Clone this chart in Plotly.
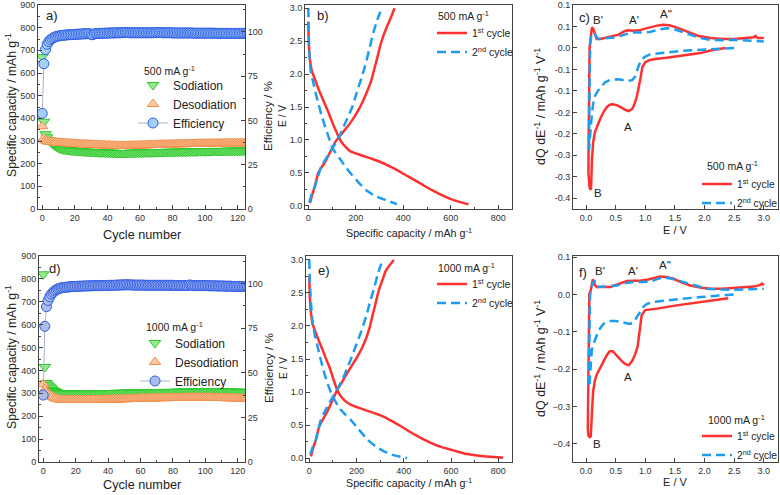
import plotly.graph_objects as go

W, H = 780, 495
FONT = "Liberation Sans, Arial, sans-serif"
AX = "#444444"
RED = "#ff3030"
BLUE = "#1e9cf0"

cycles = list(range(130))

# ---- panel a (500 mA g-1) ----
a_sod = [670, 385, 330, 316, 305, 297, 290, 284, 279, 275,
         270, 267, 265, 263, 262, 261, 260, 259, 258, 258,
         257, 256, 256, 255, 255, 254, 254, 253, 253, 252,
         252, 252, 251, 251, 251, 250, 250, 250, 250, 249,
         249, 249, 248, 248, 248, 248, 247, 247, 247, 247,
         247, 247, 247, 248, 248, 248, 248, 248, 249, 249,
         249, 249, 249, 250, 250, 250, 250, 250, 250, 251,
         251, 251, 251, 251, 251, 252, 252, 252, 252, 252,
         252, 252, 253, 253, 253, 253, 253, 253, 253, 254,
         254, 254, 254, 254, 254, 254, 255, 255, 255, 255,
         255, 255, 255, 255, 256, 256, 256, 256, 256, 256,
         256, 256, 256, 257, 257, 257, 257, 257, 257, 257,
         257, 257, 257, 258, 258, 258, 258, 258, 258, 258]
a_desod = [365, 312, 303, 299, 297, 296, 295, 294, 294, 293,
           292, 292, 291, 291, 290, 290, 289, 289, 288, 288,
           287, 287, 286, 286, 286, 285, 285, 285, 284, 284,
           283, 283, 283, 282, 282, 282, 281, 281, 281, 280,
           280, 280, 280, 279, 279, 279, 279, 278, 278, 278,
           278, 278, 278, 279, 279, 279, 279, 280, 280, 280,
           280, 281, 281, 281, 281, 282, 282, 282, 282, 283,
           283, 283, 283, 284, 284, 284, 284, 284, 285, 285,
           285, 285, 285, 286, 286, 286, 286, 286, 286, 287,
           287, 287, 287, 287, 287, 288, 288, 288, 288, 288,
           288, 288, 288, 289, 289, 289, 289, 289, 289, 289,
           289, 289, 290, 290, 290, 290, 290, 290, 290, 290,
           290, 290, 290, 290, 290, 290, 291, 291, 291, 291]
a_eff = [54.0, 82.0, 90.0, 93.0, 94.5, 95.5, 96.2, 96.8, 97.2, 97.5,
         97.7, 97.9, 98.0, 98.1, 98.2, 98.3, 98.4, 98.4, 98.5, 98.5,
         98.6, 98.7, 98.7, 98.8, 98.8, 98.9, 98.9, 99.0, 99.0, 99.0,
         98.6, 98.4, 98.9, 99.1, 99.1, 99.2, 99.2, 99.2, 99.3, 99.3,
         99.3, 99.4, 99.4, 99.4, 99.4, 99.5, 99.5, 99.5, 99.5, 99.6,
         99.6, 99.7, 99.6, 99.6, 99.5, 99.5, 99.5, 99.5, 99.5, 99.5,
         99.5, 99.5, 99.5, 99.5, 99.5, 99.5, 99.5, 99.5, 99.5, 99.6,
         99.6, 99.7, 99.6, 99.6, 99.5, 99.5, 99.5, 99.5, 99.5, 99.5,
         99.4, 99.4, 99.4, 99.4, 99.4, 99.4, 99.4, 99.4, 99.4, 99.4,
         99.4, 99.4, 99.4, 99.3, 99.3, 99.3, 99.3, 99.3, 99.3, 99.3,
         99.3, 99.3, 99.3, 99.3, 99.3, 99.3, 99.3, 99.2, 99.2, 99.2,
         99.2, 99.2, 99.2, 99.2, 99.2, 99.2, 99.2, 99.2, 99.2, 99.2,
         99.2, 99.2, 99.2, 99.2, 99.2, 99.2, 99.2, 99.2, 99.2, 99.2]

# ---- panel d (1000 mA g-1) ----
d_sod = [820, 415, 345, 338, 330, 322, 315, 310, 306, 303,
         301, 300, 300, 299, 299, 299, 299, 299, 299, 299,
         299, 299, 299, 299, 299, 300, 300, 300, 300, 300,
         300, 300, 300, 300, 300, 300, 300, 301, 301, 301,
         301, 301, 301, 301, 302, 302, 302, 302, 302, 302,
         303, 303, 303, 303, 303, 303, 303, 304, 304, 304,
         304, 304, 304, 304, 305, 305, 305, 305, 305, 305,
         305, 305, 305, 306, 306, 306, 306, 306, 306, 306,
         306, 306, 307, 307, 307, 307, 307, 307, 307, 307,
         308, 308, 308, 308, 308, 308, 308, 308, 309, 309,
         309, 309, 309, 309, 309, 309, 309, 309, 309, 309,
         308, 308, 308, 308, 308, 308, 307, 307, 307, 307,
         307, 307, 306, 306, 306, 306, 306, 306, 305, 305]
d_desod = [340, 318, 305, 298, 293, 288, 284, 280, 277, 275,
           273, 272, 271, 271, 271, 271, 271, 271, 271, 271,
           271, 271, 271, 271, 271, 271, 271, 271, 271, 271,
           271, 271, 271, 271, 271, 271, 271, 271, 272, 272,
           272, 272, 272, 273, 273, 273, 273, 274, 274, 274,
           274, 275, 275, 275, 275, 276, 276, 276, 276, 276,
           277, 277, 277, 277, 277, 278, 278, 278, 278, 278,
           278, 279, 279, 279, 279, 279, 279, 279, 280, 280,
           280, 280, 280, 280, 280, 280, 280, 281, 281, 281,
           281, 281, 281, 281, 281, 281, 281, 281, 281, 281,
           281, 281, 281, 281, 281, 280, 280, 280, 280, 280,
           280, 279, 279, 279, 279, 279, 278, 278, 278, 278,
           277, 277, 277, 276, 276, 276, 276, 275, 275, 275]
d_eff = [37.5, 76.0, 87.0, 90.5, 92.5, 94.0, 95.0, 95.8, 96.4, 96.9,
         97.3, 97.5, 97.7, 97.8, 97.9, 98.0, 98.1, 98.2, 98.3, 98.3,
         98.4, 98.4, 98.5, 98.5, 98.5, 98.6, 98.6, 98.6, 98.7, 98.7,
         98.7, 98.7, 98.8, 98.8, 98.8, 98.8, 98.8, 98.9, 98.9, 98.9,
         98.9, 99.0, 99.0, 99.0, 99.0, 99.1, 99.1, 99.1, 99.2, 99.2,
         99.2, 99.3, 99.3, 99.2, 99.2, 99.2, 99.1, 99.1, 99.1, 99.1,
         99.1, 99.1, 99.1, 99.0, 99.0, 99.0, 99.0, 99.0, 99.0, 99.0,
         99.0, 99.0, 99.0, 99.0, 99.0, 99.0, 99.0, 99.0, 99.0, 99.0,
         99.0, 98.9, 98.9, 98.9, 98.9, 98.9, 98.9, 98.9, 98.9, 98.9,
         99.1, 99.1, 98.9, 98.8, 98.8, 98.8, 98.8, 98.8, 98.8, 98.8,
         98.8, 98.8, 98.7, 98.7, 98.7, 98.7, 98.7, 98.6, 98.6, 98.6,
         98.6, 98.6, 98.5, 98.5, 98.5, 98.5, 98.5, 98.4, 98.4, 98.4,
         98.4, 98.4, 98.3, 98.3, 98.3, 98.3, 98.3, 98.3, 98.3, 98.3]

# ---- panel b (500 mA g-1) voltage profiles ----
b1_dis_cap = [0, 1, 3, 7, 15, 28, 42, 56, 75, 91, 105, 120, 134, 150, 176, 220, 270,
              316, 350, 387, 420, 457, 490, 527, 560, 598, 640, 675]
b1_dis_v = [2.8, 2.6, 2.4, 2.22, 2.05, 1.92, 1.78, 1.66, 1.5, 1.36, 1.23, 1.11, 1.0,
            0.92, 0.83, 0.77, 0.71, 0.645, 0.585, 0.515, 0.445, 0.37, 0.30, 0.225,
            0.165, 0.105, 0.055, 0.02]
b1_ch_cap = [7, 15, 28, 42, 55, 70, 90, 112, 135, 162, 185, 204, 225, 246, 265, 281,
             292, 302, 315, 331, 348, 363]
b1_ch_v = [0.04, 0.15, 0.30, 0.50, 0.58, 0.66, 0.80, 0.96, 1.07, 1.19, 1.30, 1.41,
           1.55, 1.72, 1.90, 2.12, 2.27, 2.42, 2.57, 2.72, 2.86, 3.0]
b2_dis_cap = [0, 1, 2, 4, 10, 21, 30, 42, 55, 70, 85, 98, 115, 134, 155, 176, 210,
              246, 280, 316, 345, 373]
b2_dis_v = [3.0, 2.8, 2.6, 2.32, 2.05, 1.87, 1.72, 1.56, 1.38, 1.21, 1.05, 0.91, 0.80,
            0.71, 0.60, 0.50, 0.36, 0.23, 0.15, 0.10, 0.06, 0.025]
b2_ch_cap = [4, 15, 28, 42, 56, 75, 91, 110, 127, 145, 162, 185, 204, 222, 239, 255,
             274, 290, 309]
b2_ch_v = [0.05, 0.18, 0.30, 0.46, 0.61, 0.72, 0.81, 0.92, 1.03, 1.17, 1.31, 1.50,
           1.72, 1.92, 2.12, 2.35, 2.63, 2.82, 3.0]

# ---- panel e (1000 mA g-1) voltage profiles ----
e1_dis_cap = [0, 2, 7, 15, 28, 42, 56, 70, 84, 98, 112, 122, 133, 150, 175, 210, 246,
              280, 316, 350, 386, 420, 456, 490, 526, 560, 596, 630, 667, 720, 780, 821]
e1_dis_v = [2.75, 2.45, 2.19, 2.02, 1.89, 1.76, 1.64, 1.51, 1.39, 1.24, 1.09, 1.0,
            0.94, 0.87, 0.81, 0.76, 0.715, 0.675, 0.625, 0.56, 0.485, 0.41, 0.335,
            0.27, 0.21, 0.165, 0.13, 0.095, 0.06, 0.035, 0.015, 0.005]
e1_ch_cap = [7, 15, 28, 42, 60, 77, 98, 119, 140, 161, 182, 204, 222, 239, 255, 267,
             281, 295, 310, 323, 340, 358]
e1_ch_v = [0.025, 0.14, 0.28, 0.48, 0.60, 0.71, 0.87, 1.04, 1.16, 1.29, 1.41, 1.54,
           1.66, 1.80, 1.97, 2.15, 2.35, 2.55, 2.70, 2.83, 2.92, 3.0]
e2_dis_cap = [0, 1, 4, 8, 14, 24, 35, 49, 63, 80, 98, 115, 133, 155, 175, 210, 246,
              280, 316, 360, 414]
e2_dis_v = [3.0, 2.8, 2.55, 2.3, 2.05, 1.85, 1.69, 1.48, 1.29, 1.10, 0.94, 0.83, 0.73,
            0.65, 0.58, 0.43, 0.28, 0.18, 0.10, 0.04, 0.0]
e2_ch_cap = [4, 15, 28, 38, 49, 65, 84, 105, 126, 150, 175, 196, 218, 240, 260, 275,
             288, 298, 309]
e2_ch_v = [0.05, 0.17, 0.28, 0.42, 0.58, 0.70, 0.83, 0.96, 1.09, 1.27, 1.49, 1.69,
           1.90, 2.14, 2.40, 2.58, 2.76, 2.88, 2.98]

# ---- panel c (500 mA g-1) dQ/dE ----
c1_E = [2.35, 2.1, 1.93, 1.6, 1.36, 1.2, 1.08, 1.0, 0.95, 0.92, 0.89, 0.86, 0.82, 0.78,
        0.72, 0.66, 0.6, 0.52, 0.45, 0.40, 0.35, 0.30, 0.24, 0.19, 0.15, 0.12, 0.10,
        0.085, 0.07, 0.056, 0.04,
        0.045, 0.055, 0.06, 0.075, 0.09, 0.10, 0.12, 0.15, 0.18, 0.24, 0.35, 0.45,
        0.55, 0.65, 0.70, 0.80, 0.90, 1.0, 1.1, 1.2, 1.3, 1.4, 1.5, 1.6, 1.76, 1.9,
        2.1, 2.3, 2.5, 2.7, 2.83, 2.86, 2.9, 3.0]
c1_dq = [0.0, -0.006, -0.012, -0.019, -0.023, -0.025, -0.028, -0.033, -0.045, -0.07,
         -0.095, -0.112, -0.13, -0.142, -0.147, -0.144, -0.139, -0.133, -0.131, -0.132,
         -0.138, -0.148, -0.165, -0.18, -0.196, -0.22, -0.26, -0.327, -0.33, -0.32,
         -0.29,
         -0.2, -0.05, 0.0, 0.02, 0.04, 0.048, 0.045, 0.03, 0.021, 0.021, 0.024, 0.027,
         0.031, 0.039, 0.041, 0.040, 0.041, 0.045, 0.049, 0.052, 0.054, 0.053, 0.049,
         0.044, 0.035, 0.028, 0.023, 0.021, 0.021, 0.023, 0.025, 0.028, 0.023, 0.023]
c2_E = [2.5, 2.2, 1.93, 1.7, 1.48, 1.25, 1.08, 1.0, 0.93, 0.88, 0.83, 0.78, 0.70, 0.60,
        0.52, 0.45, 0.38, 0.32, 0.26, 0.20, 0.15, 0.12, 0.096, 0.075, 0.06, 0.05,
        0.055, 0.06, 0.07, 0.085, 0.11, 0.14, 0.17, 0.21, 0.30, 0.40, 0.52, 0.65, 0.80,
        0.95, 1.08, 1.2, 1.36, 1.5, 1.6, 1.75, 1.93, 2.1, 2.3, 2.5, 2.7, 2.85, 3.0]
c2_dq = [0.0, -0.002, -0.004, -0.006, -0.009, -0.012, -0.015, -0.02, -0.028, -0.045,
         -0.066, -0.075, -0.077, -0.074, -0.073, -0.074, -0.076, -0.08, -0.09, -0.10,
         -0.112, -0.13, -0.158, -0.19, -0.23, -0.238,
         -0.15, -0.05, 0.01, 0.025, 0.033, 0.035, 0.027, 0.021, 0.022, 0.023, 0.025,
         0.031, 0.036, 0.036, 0.037, 0.042, 0.046, 0.043, 0.038, 0.031, 0.023, 0.019,
         0.018, 0.019, 0.018, 0.016, 0.015]

# ---- panel f (1000 mA g-1) dQ/dE ----
f1_E = [2.4, 2.1, 1.8, 1.5, 1.2, 1.0, 0.94, 0.92, 0.90, 0.87, 0.83, 0.78, 0.72, 0.66,
        0.60, 0.52, 0.45, 0.40, 0.35, 0.30, 0.24, 0.18, 0.15, 0.12, 0.105, 0.096, 0.08,
        0.06, 0.04, 0.03,
        0.035, 0.045, 0.056, 0.079, 0.10, 0.115, 0.13, 0.15, 0.18, 0.30, 0.41, 0.55,
        0.69, 0.80, 0.91, 1.05, 1.15, 1.25, 1.35, 1.48, 1.6, 1.76, 1.95, 2.1, 2.3, 2.49,
        2.7, 2.83, 2.93, 2.97, 3.0]
f1_dq = [-0.01, -0.016, -0.022, -0.03, -0.038, -0.042, -0.055, -0.08, -0.11, -0.14,
         -0.16, -0.178, -0.19, -0.186, -0.178, -0.163, -0.152, -0.152, -0.163, -0.178,
         -0.195, -0.215, -0.23, -0.26, -0.30, -0.355, -0.38, -0.382, -0.378, -0.36,
         -0.25, -0.08, 0.002, 0.011, 0.03, 0.04, 0.036, 0.025, 0.02, 0.019, 0.02, 0.028,
         0.036, 0.037, 0.037, 0.04, 0.045, 0.048, 0.047, 0.042, 0.033, 0.024, 0.018,
         0.015, 0.015, 0.017, 0.019, 0.021, 0.025, 0.029, 0.024]
f2_E = [2.49, 2.2, 1.93, 1.6, 1.36, 1.15, 1.03, 0.95, 0.90, 0.86, 0.80, 0.74, 0.66, 0.58,
        0.50, 0.41, 0.35, 0.29, 0.22, 0.18, 0.13, 0.096, 0.08, 0.068, 0.056, 0.045,
        0.05, 0.06, 0.068, 0.09, 0.11, 0.14, 0.16, 0.18, 0.30, 0.52, 0.65, 0.80, 0.95,
        1.08, 1.2, 1.31, 1.45, 1.65, 1.85, 2.04, 2.3, 2.49, 2.75, 3.0]
f2_dq = [0.0, -0.003, -0.007, -0.012, -0.016, -0.02, -0.025, -0.035, -0.05, -0.061,
         -0.075, -0.079, -0.077, -0.074, -0.071, -0.071, -0.074, -0.079, -0.095, -0.11,
         -0.13, -0.15, -0.18, -0.21, -0.248, -0.24,
         -0.15, -0.04, -0.003, 0.02, 0.029, 0.037, 0.03, 0.02, 0.021, 0.024, 0.03,
         0.033, 0.033, 0.034, 0.041, 0.046, 0.042, 0.033, 0.022, 0.015, 0.013, 0.0125,
         0.014, 0.015]

c_yticks = [0.1, 0.05, 0.0, -0.05, -0.1, -0.15, -0.2, -0.25, -0.3, -0.35]
c_yticktext = ["0.1", "0.1", "0.0", "-0.1", "-0.1", "-0.2", "-0.2", "-0.3", "-0.3", "-0.4"]

# peak labels (text, E, dQ)
c_peaks = [("B'", 0.20, 0.064), ("A'", 0.81, 0.064), ("A''", 1.35, 0.078),
           ("A", 0.70, -0.185), ("B", 0.20, -0.338)]
f_peaks = [("B'", 0.23, 0.064), ("A'", 0.80, 0.064), ("A''", 1.34, 0.079),
           ("A", 0.70, -0.222), ("B", 0.18, -0.402)]

# ---------------- layout helpers ----------------
def px_x(p):
    return p / W


def px_y(p):
    return 1 - p / H


fig = go.Figure()
TICKFONT = dict(size=9, color="#333", family=FONT)


def axis_common(**kw):
    d = dict(showline=True, linecolor=AX, linewidth=1, ticks="inside", ticklen=4,
             tickcolor=AX, tickfont=TICKFONT, showgrid=False, zeroline=False)
    d.update(kw)
    return d


panels = {
    "a": (38, 245, 5, 209),
    "b": (305, 512, 5, 209),
    "c": (573, 778, 5, 209),
    "d": (39, 245, 256, 462),
    "e": (306, 512, 256, 462),
    "f": (573, 778, 256, 462),
}


def dom(p):
    l, r, t, b = panels[p]
    return [px_x(l), px_x(r)], [px_y(b), px_y(t)]


SOD = dict(symbol="triangle-down", size=10, color="#94ec8c", line=dict(color="#2cc82c", width=1))
DES = dict(symbol="triangle-up", size=10, color="#fcc8a2", line=dict(color="#f2904e", width=1))


def cycling_panel(xa, ya, ya2, sod, des, eff, legend, eff_fill):
    fig.add_trace(go.Scatter(x=cycles, y=sod, mode="markers", marker=SOD, name="Sodiation",
                             xaxis=xa, yaxis=ya, legend=legend))
    fig.add_trace(go.Scatter(x=cycles, y=des, mode="markers", marker=DES, name="Desodiation",
                             xaxis=xa, yaxis=ya, legend=legend))
    fig.add_trace(go.Scatter(x=cycles, y=eff, mode="lines+markers", name="Efficiency",
                             line=dict(color="#a8b4c8", width=1),
                             marker=dict(symbol="circle", size=10, color=eff_fill,
                                         line=dict(color="#2f5ce6", width=1)),
                             xaxis=xa, yaxis=ya2, legend=legend))


def profile_panel(xa, ya, d1c, d1v, c1c, c1v, d2c, d2v, c2c, c2v, legend):
    fig.add_trace(go.Scatter(x=d1c + [None] + c1c, y=d1v + [None] + c1v, mode="lines",
                             name="1<sup>st</sup> cycle",
                             line=dict(color=RED, width=2.5, shape="spline", smoothing=0.5),
                             xaxis=xa, yaxis=ya, legend=legend, connectgaps=False))
    fig.add_trace(go.Scatter(x=d2c + [None] + c2c, y=d2v + [None] + c2v, mode="lines",
                             name="2<sup>nd</sup> cycle",
                             line=dict(color=BLUE, width=2.5, dash="9px,5px", shape="spline", smoothing=0.5),
                             xaxis=xa, yaxis=ya, legend=legend, connectgaps=False))


def dqde_panel(xa, ya, e1, q1, e2, q2, legend):
    fig.add_trace(go.Scatter(x=e1, y=q1, mode="lines", name="1<sup>st</sup> cycle",
                             line=dict(color=RED, width=2.5),
                             xaxis=xa, yaxis=ya, legend=legend))
    fig.add_trace(go.Scatter(x=e2, y=q2, mode="lines", name="2<sup>nd</sup> cycle",
                             line=dict(color=BLUE, width=2.5, dash="9px,5px"),
                             xaxis=xa, yaxis=ya, legend=legend))


cycling_panel("x", "y", "y2", a_sod, a_desod, a_eff, "legend", "#a4d0f6")
profile_panel("x2", "y3", b1_dis_cap, b1_dis_v, b1_ch_cap, b1_ch_v,
              b2_dis_cap, b2_dis_v, b2_ch_cap, b2_ch_v, "legend2")
dqde_panel("x3", "y4", c1_E, c1_dq, c2_E, c2_dq, "legend3")
cycling_panel("x4", "y5", "y6", d_sod, d_desod, d_eff, "legend4", "#aabde6")
profile_panel("x5", "y7", e1_dis_cap, e1_dis_v, e1_ch_cap, e1_ch_v,
              e2_dis_cap, e2_dis_v, e2_ch_cap, e2_ch_v, "legend5")
dqde_panel("x6", "y8", f1_E, f1_dq, f2_E, f2_dq, "legend6")

layout = dict(width=W, height=H, margin=dict(l=0, r=0, t=0, b=0, autoexpand=False),
              paper_bgcolor="white", plot_bgcolor="white",
              font=dict(family=FONT, size=12, color="#222"))

MINX = lambda dt: dict(ticks="inside", ticklen=2, dtick=dt, tickcolor=AX)

xd, yd = dom("a")
layout["xaxis"] = axis_common(domain=xd, anchor="y", range=[-2.6, 124.5], dtick=20, mirror=True, minor=MINX(10))
layout["yaxis"] = axis_common(domain=yd, anchor="x", range=[0, 900], dtick=100, minor=MINX(50))
layout["yaxis2"] = axis_common(overlaying="y", anchor="x", side="right", range=[0, 115.2],
                               tickvals=[0, 25, 50, 75, 100], minor=MINX(12.5))
xd, yd = dom("b")
layout["xaxis2"] = axis_common(domain=xd, anchor="y3", range=[-14, 858], dtick=200, mirror=True, minor=MINX(100))
layout["yaxis3"] = axis_common(domain=yd, anchor="x2", range=[-0.05, 3.05], dtick=0.5,
                               tickformat=".1f", mirror=True, minor=MINX(0.25))
xd, yd = dom("c")
layout["xaxis3"] = axis_common(domain=xd, anchor="y4", range=[-0.22, 3.24], dtick=0.5,
                               tickformat=".1f", mirror=True)
layout["yaxis4"] = axis_common(domain=yd, anchor="x3", range=[-0.375, 0.1],
                               tickvals=c_yticks, ticktext=c_yticktext, mirror=True)
xd, yd = dom("d")
layout["xaxis4"] = axis_common(domain=xd, anchor="y5", range=[-2.6, 124.5], dtick=20, mirror=True, minor=MINX(10))
layout["yaxis5"] = axis_common(domain=yd, anchor="x4", range=[0, 900], dtick=100, minor=MINX(50))
layout["yaxis6"] = axis_common(overlaying="y5", anchor="x4", side="right", range=[0, 115.4],
                               tickvals=[0, 25, 50, 75, 100], minor=MINX(12.5))
xd, yd = dom("e")
layout["xaxis5"] = axis_common(domain=xd, anchor="y7", range=[-14, 858], dtick=200, mirror=True, minor=MINX(100))
layout["yaxis7"] = axis_common(domain=yd, anchor="x5", range=[-0.06, 3.06], dtick=0.5,
                               tickformat=".1f", mirror=True, minor=MINX(0.25))
xd, yd = dom("f")
layout["xaxis6"] = axis_common(domain=xd, anchor="y8", range=[-0.22, 3.24], dtick=0.5,
                               tickformat=".1f", mirror=True)
layout["yaxis8"] = axis_common(domain=yd, anchor="x6", range=[-0.449, 0.103], dtick=0.1,
                               tickformat=".1f", mirror=True)


def leg(xp, yp, size):
    return dict(x=px_x(xp), y=px_y(yp), xanchor="left", yanchor="top",
                bgcolor="rgba(0,0,0,0)", borderwidth=0,
                font=dict(size=size, family=FONT, color="#222"),
                itemwidth=30, tracegroupgap=0)


layout["legend"] = leg(133, 70.5, 12)
layout["legend2"] = leg(432, 18.5, 10.5)
layout["legend3"] = leg(697, 169.5, 10.3)
layout["legend4"] = leg(135, 328.5, 12)
layout["legend5"] = leg(432, 269.5, 10.5)
layout["legend6"] = leg(697, 421.5, 10.3)

ann = []


def text(x, y, s, size=13, angle=0, xanchor="center"):
    ann.append(dict(x=px_x(x), y=px_y(y), xref="paper", yref="paper", text=s,
                    showarrow=False, textangle=angle, xanchor=xanchor, yanchor="middle",
                    font=dict(size=size, family=FONT, color="#222")))


T500 = "500 mA g<sup>-1</sup>"
T1000 = "1000 mA g<sup>-1</sup>"
# legend titles
text(142, 70, T500, size=10.5, xanchor="left")
text(436, 16, T500, size=10.5, xanchor="left")
text(705, 166, T500, size=10.5, xanchor="left")
text(144, 326, T1000, size=10.5, xanchor="left")
text(436, 267, T1000, size=10.5, xanchor="left")
text(706, 419, T1000, size=10.5, xanchor="left")

CAP = "Specific capacity / mAh g<sup>-1</sup>"
DQ = "dQ dE<sup>-1</sup> / mAh g<sup>-1</sup> V<sup>-1</sup>"
for dy in (0, 252):
    text(11, 105 + dy, CAP, size=12.2, angle=-90)
    text(268, 116 + dy, "Efficiency / %", size=11.7, angle=-90)
    text(283, 116 + dy, "E / V", size=10.2, angle=-90)
    text(540, 107 + dy, DQ, size=12.5, angle=-90)
text(142, 235, "Cycle number", size=12.7)
text(142, 485, "Cycle number", size=12.7)
text(409, 233, CAP, size=10.7)
text(409, 482, CAP, size=10.7)
text(675, 230, "E / V", size=11)
text(675, 482, "E / V", size=11)

text(44, 16, "a)", size=13, xanchor="left")
text(315, 16, "b)", size=13, xanchor="left")
text(577, 17, "c)", size=13, xanchor="left")
text(47, 268, "d)", size=13, xanchor="left")
text(316, 270, "e)", size=13, xanchor="left")
text(577, 272, "f)", size=13, xanchor="left")

for ax, peaks in ((("x3", "y4"), c_peaks), (("x6", "y8"), f_peaks)):
    for s, e, q in peaks:
        ann.append(dict(x=e, y=q, xref=ax[0], yref=ax[1], text=s, showarrow=False,
                        font=dict(size=11.5, family=FONT, color="#222")))

layout["annotations"] = ann
fig.update_layout(**layout)
fig.write_html("out.html", config={"displayModeBar": False},
               post_script="document.body.style.margin='0px';document.body.style.overflow='hidden';")
